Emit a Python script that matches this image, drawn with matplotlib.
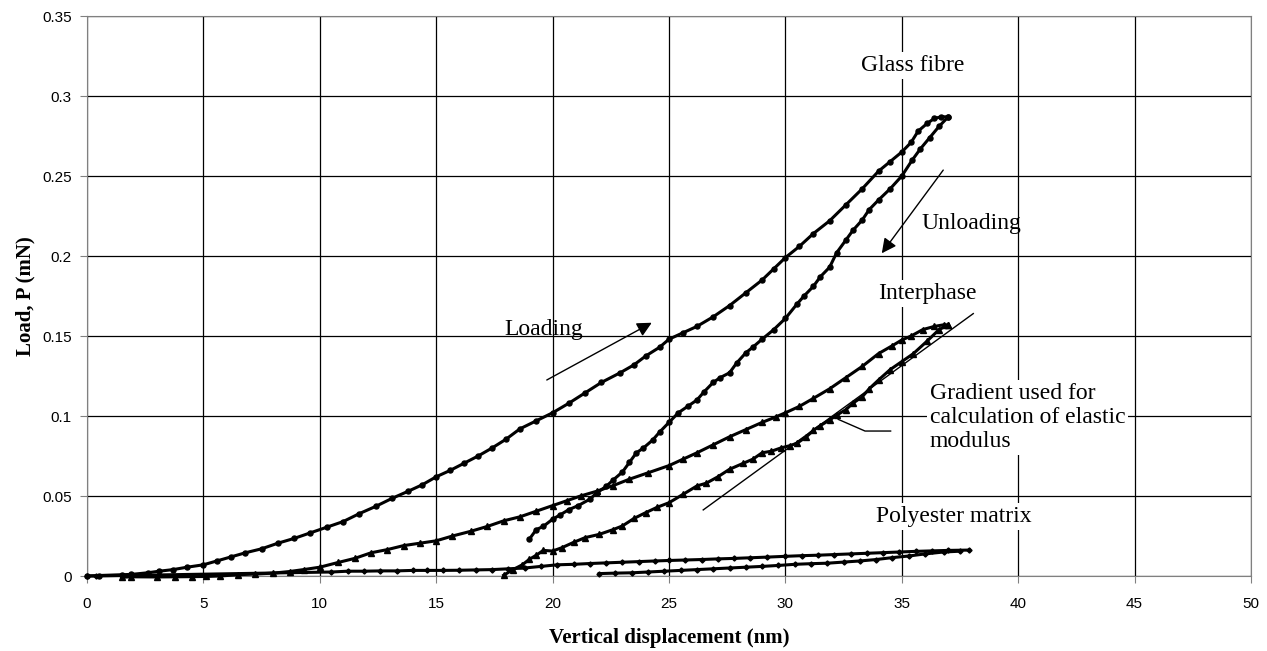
import matplotlib
matplotlib.use("Agg")
import matplotlib.pyplot as plt

plt.rcParams.update({
    "figure.facecolor": "white", "axes.facecolor": "white",
    "font.family": "Liberation Sans", "font.size": 11,
})
SERIF = "Liberation Serif"
GRID, FRAME = "#000000", "#808080"

# Glass fibre, loading branch
glass_load_x = [0.0, 0.5, 1.5, 1.9, 2.6, 3.1, 3.7, 4.3, 5.0, 5.6, 6.2, 6.8, 7.5, 8.2,
                8.9, 9.6, 10.3, 11.0, 11.7, 12.4, 13.1, 13.8, 14.4, 15.0, 15.6, 16.2,
                16.8, 17.4, 18.0, 18.6, 19.3, 20.0, 20.7, 21.4, 22.1, 22.9, 23.5, 24.0,
                24.6, 25.0, 25.6, 26.2, 26.9, 27.6, 28.3, 29.0, 29.5, 30.0, 30.6, 31.2,
                31.9, 32.6, 33.3, 34.0, 34.5, 35.0, 35.4, 35.7, 36.1, 36.4, 36.7, 37.0]
glass_load_y = [0.0, 0.0003, 0.0008, 0.001, 0.002, 0.003, 0.004, 0.0055, 0.007, 0.0095,
                0.012, 0.0145, 0.017, 0.0205, 0.0235, 0.027, 0.0305, 0.034, 0.039, 0.0435,
                0.0485, 0.053, 0.057, 0.062, 0.066, 0.0705, 0.075, 0.080, 0.0855, 0.092,
                0.097, 0.102, 0.108, 0.1145, 0.121, 0.127, 0.132, 0.1375, 0.143, 0.148,
                0.152, 0.156, 0.162, 0.169, 0.177, 0.185, 0.192, 0.199, 0.206, 0.214,
                0.222, 0.232, 0.242, 0.253, 0.259, 0.265, 0.271, 0.278, 0.283, 0.286,
                0.287, 0.287]

# Glass fibre, unloading branch
glass_unload_x = [37.0, 36.6, 36.2, 35.8, 35.45, 35.0, 34.5, 34.0, 33.6, 33.3, 32.9, 32.6,
                  32.2, 31.9, 31.5, 31.2, 30.8, 30.5, 30.0, 29.5, 29.0, 28.6, 28.3, 27.9,
                  27.6, 27.2, 26.9, 26.5, 26.2, 25.8, 25.4, 25.0, 24.6, 24.3, 23.9, 23.6,
                  23.3, 23.0, 22.6, 22.3, 21.9, 21.6, 21.1, 20.7, 20.3, 20.0, 19.6, 19.3, 19.0]
glass_unload_y = [0.287, 0.281, 0.274, 0.267, 0.260, 0.250, 0.242, 0.235, 0.229, 0.2225,
                  0.216, 0.210, 0.202, 0.193, 0.187, 0.181, 0.175, 0.170, 0.161, 0.154,
                  0.148, 0.143, 0.1395, 0.133, 0.127, 0.124, 0.121, 0.115, 0.110, 0.106,
                  0.102, 0.096, 0.090, 0.085, 0.080, 0.077, 0.071, 0.065, 0.060, 0.056,
                  0.052, 0.048, 0.044, 0.0415, 0.038, 0.0355, 0.031, 0.029, 0.023]

# Interphase, loading branch
inter_load_x = [1.5, 1.9, 3.0, 3.8, 4.5, 5.1, 5.7, 6.5, 7.2, 8.0, 8.7, 9.3, 10.0, 10.8,
                11.5, 12.2, 12.9, 13.6, 14.3, 15.0, 15.7, 16.5, 17.2, 17.9, 18.6, 19.3,
                20.0, 20.6, 21.2, 21.9, 22.6, 23.3, 24.1, 25.0, 25.6, 26.2, 26.9, 27.6,
                28.3, 29.0, 29.6, 30.0, 30.6, 31.2, 31.9, 32.6, 33.3, 34.0, 34.6, 35.0,
                35.4, 35.9, 36.4, 36.8, 37.0]
inter_load_y = [-0.0008, -0.0005, -0.0006, -0.0005, -0.0004, -0.0003, 0.0, 0.0008, 0.0012,
                0.0018, 0.0028, 0.004, 0.0055, 0.0085, 0.011, 0.0145, 0.0165, 0.019, 0.0205,
                0.022, 0.025, 0.028, 0.031, 0.0345, 0.037, 0.0405, 0.044, 0.047, 0.050,
                0.053, 0.0565, 0.0605, 0.0645, 0.069, 0.073, 0.077, 0.082, 0.087, 0.0915,
                0.096, 0.0995, 0.102, 0.106, 0.111, 0.117, 0.124, 0.131, 0.139, 0.144,
                0.1475, 0.150, 0.154, 0.156, 0.157, 0.157]

# Interphase, unloading branch
inter_unload_x = [37.0, 36.6, 36.1, 35.5, 35.0, 34.5, 34.0, 33.6, 33.3, 32.9, 32.6, 32.2,
                  31.9, 31.5, 31.2, 30.9, 30.5, 30.2, 29.8, 29.4, 29.0, 28.6, 28.2, 27.6,
                  27.1, 26.6, 26.2, 25.6, 25.0, 24.5, 24.0, 23.5, 23.0, 22.6, 22.0, 21.4,
                  20.9, 20.4, 20.0, 19.6, 19.3, 19.0, 18.7, 18.3, 17.9]
inter_unload_y = [0.157, 0.154, 0.147, 0.139, 0.134, 0.129, 0.1225, 0.117, 0.112, 0.108,
                  0.104, 0.1005, 0.0975, 0.094, 0.091, 0.087, 0.083, 0.0815, 0.080, 0.078,
                  0.077, 0.073, 0.0705, 0.0667, 0.062, 0.058, 0.0563, 0.051, 0.0458, 0.043,
                  0.0396, 0.036, 0.0313, 0.029, 0.026, 0.024, 0.021, 0.0177, 0.0156, 0.016,
                  0.013, 0.0104, 0.007, 0.004, 0.0005]

# Polyester matrix, loading and unloading branches
poly_load_x = [0.0, 0.4, 10.5, 11.2, 11.9, 12.6, 13.3, 14.0, 14.6, 15.3, 16.0, 16.7, 17.4,
               18.1, 18.8, 19.5, 20.2, 20.9, 21.6, 22.3, 23.0, 23.7, 24.4, 25.0, 25.7,
               26.4, 27.1, 27.8, 28.5, 29.2, 30.0, 30.7, 31.4, 32.1, 32.8, 33.5, 34.2,
               34.9, 35.6, 36.3, 37.0, 37.9]
poly_load_y = [0.0, 0.0, 0.0025, 0.003, 0.003, 0.0032, 0.0032, 0.0035, 0.0035, 0.0035,
               0.0036, 0.0038, 0.004, 0.0045, 0.005, 0.006, 0.007, 0.0073, 0.0078, 0.0082,
               0.0086, 0.009, 0.0094, 0.0097, 0.010, 0.0103, 0.0107, 0.011, 0.0114, 0.0118,
               0.0123, 0.0127, 0.013, 0.0134, 0.0138, 0.0142, 0.0146, 0.015, 0.0154,
               0.0157, 0.016, 0.0162]
poly_unload_x = [37.5, 36.8, 36.0, 35.3, 34.6, 33.9, 33.2, 32.5, 31.8, 31.1, 30.4, 29.7,
                 29.0, 28.3, 27.6, 26.9, 26.2, 25.5, 24.8, 24.1, 23.4, 22.7, 22.0]
poly_unload_y = [0.0155, 0.015, 0.0138, 0.0125, 0.0115, 0.0103, 0.0094, 0.0087, 0.008,
                 0.0077, 0.0073, 0.0066, 0.006, 0.0055, 0.005, 0.0045, 0.004, 0.0035,
                 0.003, 0.0025, 0.002, 0.0018, 0.0015]

x_ticks = [0, 5, 10, 15, 20, 25, 30, 35, 40, 45, 50]
y_ticks = [0, 0.05, 0.1, 0.15, 0.2, 0.25, 0.3, 0.35]
y_tick_labels = ["0", "0.05", "0.1", "0.15", "0.2", "0.25", "0.3", "0.35"]

fig = plt.figure(figsize=(12.67, 6.51), dpi=100)
ax = fig.add_axes([87 / 1267, 1 - 576 / 651, (1251 - 87) / 1267, (576 - 16) / 651])

def branch(x, y, marker, ms):
    ax.plot(x, y, color="black", lw=2.2, marker=marker, ms=ms, clip_on=False, zorder=3)

branch(glass_load_x, glass_load_y, "o", 3.6)
branch(glass_unload_x, glass_unload_y, "o", 3.6)
branch(inter_load_x, inter_load_y, "^", 4.4)
branch(inter_unload_x, inter_unload_y, "^", 4.4)
branch(poly_load_x, poly_load_y, "D", 2.6)
branch(poly_unload_x, poly_unload_y, "D", 2.6)

ax.set_xlim(0, 50)
ax.set_ylim(0, 0.35)
ax.set_xticks(x_ticks)
ax.set_yticks(y_ticks)
ax.set_yticklabels(y_tick_labels)
ax.grid(True, color=GRID, lw=0.9)
ax.set_axisbelow(True)
for s in ax.spines.values():
    s.set_color(FRAME)
ax.tick_params(direction="out", length=5, color=FRAME, labelsize=11)
ax.tick_params(axis="x", pad=10)
ax.tick_params(axis="y", pad=6)

ax.set_xlabel("Vertical displacement (nm)", family=SERIF, weight="bold", fontsize=15, labelpad=12)
ax.set_ylabel("Load, P (mN)", family=SERIF, weight="bold", fontsize=15, labelpad=5)

# annotations
white = dict(facecolor="white", edgecolor="none", pad=2)
tfont = dict(family=SERIF, fontsize=17, zorder=4)
ax.text(35.45, 0.319, "Glass fibre", ha="center", va="center", bbox=white, **tfont)
ax.text(35.85, 0.2204, "Unloading", ha="left", va="center", **tfont)
ax.text(36.1, 0.1767, "Interphase", ha="center", va="center", bbox=white, **tfont)
ax.text(19.6, 0.154, "Loading", ha="center", va="center", **tfont)
ax.text(36.2, 0.099, "Gradient used for\ncalculation of elastic\nmodulus", ha="left",
        va="center", linespacing=1.2, bbox=white, **tfont)
ax.text(33.9, 0.037, "Polyester matrix", ha="left", va="center", bbox=white, **tfont)

arrow = dict(arrowstyle="-|>", color="black", lw=1, mutation_scale=22, shrinkA=0, shrinkB=0)
ax.annotate("", xy=(24.26, 0.1583), xytext=(19.75, 0.1225), arrowprops=arrow, zorder=4)
ax.annotate("", xy=(34.14, 0.2017), xytext=(36.78, 0.2537), arrowprops=arrow, zorder=4)

# tangent (gradient) line and its leader
ax.plot([26.47, 38.07], [0.0413, 0.164], color="black", lw=1, zorder=4)
ax.plot([32.27, 33.42, 34.52], [0.0979, 0.0906, 0.0906], color="black", lw=1, zorder=4)

fig.savefig("out.png", dpi=100)
